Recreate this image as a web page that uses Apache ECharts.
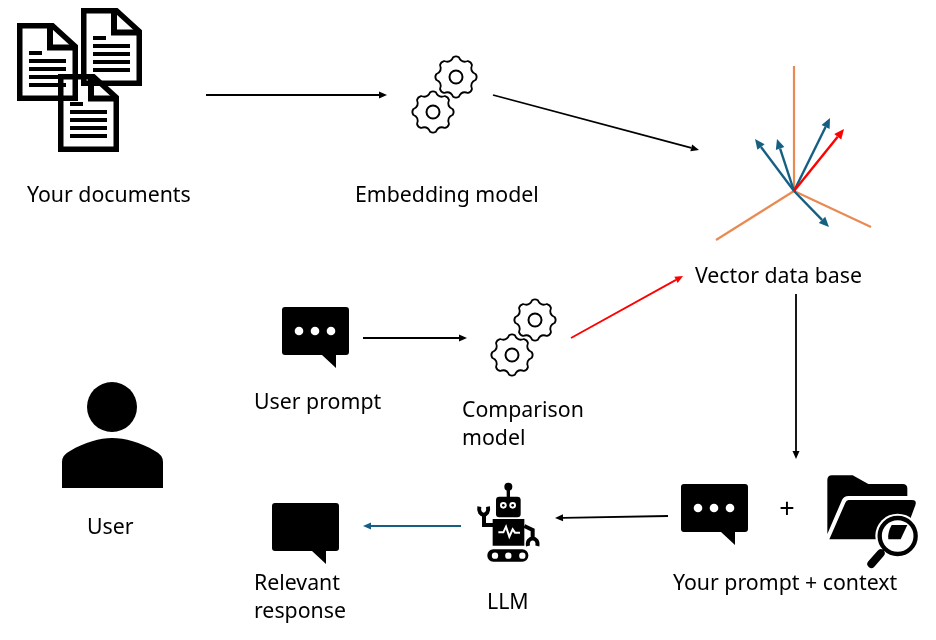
<!DOCTYPE html>
<html>
<head>
<meta charset="utf-8">
<title>RAG diagram</title>
<script src="https://cdn.jsdelivr.net/npm/echarts@6/dist/echarts.min.js"></script>
<style>
html,body{margin:0;padding:0;background:#fff;}
#chart{width:936px;height:640px;}
</style>
</head>
<body>
<div id="chart"></div>
<script>
// text: label, left x, middle y
var labels = [
	['Your documents', 27, 196],
	['Embedding model', 355, 196],
	['Vector data base', 695, 277],
	['User prompt', 254, 403],
	['Comparison', 462, 411],
	['model', 462, 439],
	['User', 87, 528],
	['Relevant', 254, 584],
	['response', 254, 612],
	['LLM', 487, 603],
	['Your prompt + context', 673, 584],
	['+', 787, 510]
];
// flow arrows: x1, y1, x2, y2, colour
var arrows = [
	[206, 95, 387, 95, '#000000'],
	[493, 95, 699, 150, '#000000'],
	[363, 338, 467, 338, '#000000'],
	[571, 338, 683, 276, '#ff0000'],
	[796, 294, 796, 459, '#000000'],
	[668, 516, 555, 518, '#000000'],
	[461, 526, 363, 526, '#156082']
];
// vector space: axes have no head
var axesLines = [
	[794, 66, 794, 191],
	[794, 191, 716, 240],
	[794, 191, 871, 227]
];
var vectors = [
	[794, 191, 755, 139, '#156082'],
	[794, 191, 777, 139, '#156082'],
	[794, 191, 830, 118, '#156082'],
	[794, 191, 829, 227, '#156082'],
	[794, 191, 844, 129, '#ff0000']
];
// icon name, x, y of its origin
var icons = [
	['doc', 17, 23],
	['doc', 81, 8],
	['doc', 58, 74],
	['gears', 456, 77],
	['gears', 535, 320],
	['bubbleDots', 282, 307],
	['bubbleDots', 681, 484],
	['bubble', 272, 503],
	['person', 62, 382],
	['robot', 470, 480],
	['folder', 670, 470]
];

function black(d) {
	return {type: 'path', shape: {pathData: d}, style: {fill: '#000'}};
}
function stroke(d, w, c) {
	return {type: 'path', shape: {pathData: d}, style: {fill: 'none', stroke: c || '#000', lineWidth: w, lineJoin: 'miter', lineCap: 'butt'}};
}
function disc(x, y, r, c) {
	return {type: 'circle', shape: {cx: x, cy: y, r: r}, style: {fill: c}};
}
function box(x, y, w, h, r, c) {
	return {type: 'rect', shape: {x: x, y: y, width: w, height: h, r: r}, style: {fill: c}};
}
function gearPath(cx, cy) {
	var R = 20, V = 14.5, d = '', rad = Math.PI / 180;
	function pt(a, r) {
		return (cx + r * Math.cos(a * rad)).toFixed(2) + ',' + (cy + r * Math.sin(a * rad)).toFixed(2);
	}
	for (var i = 0; i < 8; i++) {
		var a = i * 45 - 90;
		d += (i === 0 ? 'M' + pt(a - 8, R) : '') + 'Q' + pt(a, R + 1.5) + ' ' + pt(a + 8, R) + 'Q' + pt(a + 22.5, V) + ' ' + pt(a + 37, R);
	}
	return d + 'Z';
}
function ring(x, y, r, w) {
	return {type: 'circle', shape: {cx: x, cy: y, r: r}, style: {fill: '#fff', stroke: '#000', lineWidth: w}};
}
function bubblePath() {
	return 'M3,0H64Q67,0 67,3V45Q67,48 64,48H54V61L40,48H3Q0,48 0,45V3Q0,0 3,0Z';
}

var iconShapes = {
	doc: function() {
		return {children: [
			stroke('M2.75,2.75H35.5L58.25,23.5V75.25H2.75Z', 5.5),
			stroke('M33,2.5V24.5H58.5', 6),
			stroke('M12,30H25M12,38H49M12,46H49M12,54H49M12,62H49', 4)
		]};
	},
	gears: function() {
		return {children: [
			stroke(gearPath(0, 0), 1.8),
			ring(0, 0, 6.5, 2),
			stroke(gearPath(-23, 35), 1.8),
			ring(-23, 35, 6.5, 2)
		]};
	},
	bubbleDots: function() {
		return {children: [
			black(bubblePath()),
			disc(17, 24, 4.3, '#fff'),
			disc(33, 24, 4.3, '#fff'),
			disc(49, 24, 4.3, '#fff')
		]};
	},
	bubble: function() {
		return {children: [black(bubblePath())]};
	},
	person: function() {
		return {children: [
			disc(50, 25, 25, '#000'),
			black('M0,106V80Q0,73 8,69C23,60 38,56 50,56C63,56 78,60 93,69Q101,73 101,80V106Z')
		]};
	},
	// drawn at 3x
	robot: function() {
		return {scaleX: 1 / 3, scaleY: 1 / 3, children: [
			disc(115, 20, 12, '#000'),
			box(110, 20, 10, 34, 0, '#000'),
			box(78, 50, 74, 62, 10, '#000'),
			disc(100, 76, 10, '#fff'),
			disc(128, 76, 10, '#fff'),
			disc(100, 76, 4, '#000'),
			disc(128, 76, 4, '#000'),
			box(68, 117, 95, 80, 0, '#000'),
			stroke('M85,157H100L108,140L118,170L128,148L135,158H150', 6, '#fff'),
			stroke('M70,135H42V100', 12),
			stroke('M28,80C22,112 60,112 54,80', 12),
			stroke('M163,138L188,150V172', 12),
			stroke('M174,198C168,168 208,168 202,198', 12),
			box(52, 208, 123, 37, 18, '#000'),
			disc(75, 227, 9.5, '#fff'),
			disc(115, 227, 9.5, '#fff'),
			disc(157, 227, 9.5, '#fff')
		]};
	},
	// drawn at 3x
	folder: function() {
		return {scaleX: 1 / 3, scaleY: 1 / 3, children: [
			black('M472,30Q472,16 486,16H548L595,42H698Q712,42 712,56V78H535Q522,78 516,90L472,192Z'),
			black('M536,90H725Q742,90 736,106L698,208H478L526,98Q529,90 536,90Z'),
			disc(683, 198, 67, '#fff'),
			black('M665,165H712L692,208H655Q652,188 665,165Z'),
			{type: 'circle', shape: {cx: 683, cy: 198, r: 54}, style: {fill: 'none', stroke: '#000', lineWidth: 13}},
			stroke('M645,236L630,251', 7),
			{type: 'path', shape: {pathData: 'M632,250L604,282'}, style: {fill: 'none', stroke: '#000', lineWidth: 24, lineCap: 'round'}}
		]};
	}
};

function renderIcon(params, api) {
	var item = icons[params.dataIndex];
	var pos = api.coord([api.value(0), api.value(1)]);
	var g = iconShapes[item[0]]();
	g.type = 'group';
	g.x = pos[0];
	g.y = pos[1];
	return g;
}
function renderLine(params, api) {
	var a = api.coord([api.value(0), api.value(1)]);
	var b = api.coord([api.value(2), api.value(3)]);
	return {type: 'line', shape: {x1: a[0], y1: a[1], x2: b[0], y2: b[1]}, style: {stroke: '#e98a52', lineWidth: 2.2}};
}
function arrowRenderer(list, w, len, half) {
	return function(params, api) {
		var a = api.coord([api.value(0), api.value(1)]);
		var b = api.coord([api.value(2), api.value(3)]);
		var c = list[params.dataIndex][4];
		var t = Math.atan2(b[1] - a[1], b[0] - a[0]);
		var ux = Math.cos(t), uy = Math.sin(t);
		var bx = b[0] - ux * len, by = b[1] - uy * len;
		return {type: 'group', children: [
			{type: 'line', shape: {x1: a[0], y1: a[1], x2: bx, y2: by}, style: {stroke: c, lineWidth: w}},
			{type: 'polygon', shape: {points: [b, [bx - uy * half, by + ux * half], [bx + uy * half, by - ux * half]]}, style: {fill: c}}
		]};
	};
}
function renderLabel(params, api) {
	var pos = api.coord([api.value(0), api.value(1)]);
	var text = labels[params.dataIndex][0];
	var plus = text === '+';
	return {
		type: 'text', x: pos[0], y: pos[1],
		style: {
			text: text,
			fill: '#000',
			font: (plus ? '27px' : '21.3px') + ' "Noto Sans", sans-serif',
			textAlign: plus ? 'center' : 'left',
			textVerticalAlign: 'middle'
		}
	};
}
function xy(list) {
	return list.map(function(r) { return r.slice(0, 4); });
}

var myChart = echarts.init(document.getElementById('chart'));
myChart.setOption({
	animation: false,
	backgroundColor: '#ffffff',
	tooltip: {show: false},
	grid: {left: 0, right: 0, top: 0, bottom: 0},
	xAxis: {type: 'value', min: 0, max: 936, show: false},
	yAxis: {type: 'value', min: 0, max: 640, inverse: true, show: false},
	series: [
		{type: 'custom', name: 'axes', clip: false, renderItem: renderLine, encode: {x: [0, 2], y: [1, 3]}, data: xy(axesLines)},
		{type: 'custom', name: 'vectors', clip: false, renderItem: arrowRenderer(vectors, 2.4, 10, 4.5), encode: {x: [0, 2], y: [1, 3]}, data: xy(vectors)},
		{type: 'custom', name: 'arrows', clip: false, renderItem: arrowRenderer(arrows, 1.8, 8, 3.5), encode: {x: [0, 2], y: [1, 3]}, data: xy(arrows)},
		{type: 'custom', name: 'icons', clip: false, renderItem: renderIcon, encode: {x: 0, y: 1}, data: icons.map(function(r) { return [r[1], r[2]]; })},
		{type: 'custom', name: 'labels', clip: false, renderItem: renderLabel, encode: {x: 0, y: 1}, data: labels.map(function(r) { return [r[1], r[2]]; })}
	]
});
</script>
</body>
</html>
